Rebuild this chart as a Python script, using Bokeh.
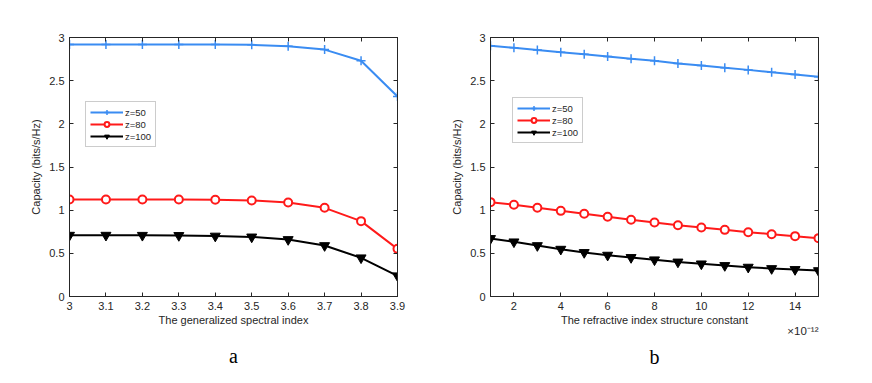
from bokeh.plotting import figure
from bokeh.layouts import row
from bokeh.models import Range1d, FixedTicker, LinearAxis, Legend, LegendItem, Title
from bokeh.embed import file_html
from bokeh.resources import INLINE

# ---- data ----
x_a = [3.0, 3.1, 3.2, 3.3, 3.4, 3.5, 3.6, 3.7, 3.8, 3.9]
a_z50 = [2.92, 2.92, 2.92, 2.92, 2.92, 2.915, 2.90, 2.86, 2.73, 2.317]
a_z80 = [1.124, 1.124, 1.124, 1.123, 1.12, 1.112, 1.089, 1.027, 0.873, 0.552]
a_z100 = [0.71, 0.71, 0.709, 0.707, 0.70, 0.69, 0.66, 0.59, 0.448, 0.24]

x_b = [1, 2, 3, 4, 5, 6, 7, 8, 9, 10, 11, 12, 13, 14, 15]
b_z50 = [2.905, 2.88, 2.855, 2.83, 2.805, 2.78, 2.755, 2.73, 2.70, 2.675, 2.65, 2.625, 2.597, 2.572, 2.545]
b_z80 = [1.093, 1.062, 1.027, 0.992, 0.958, 0.923, 0.888, 0.857, 0.826, 0.80, 0.772, 0.745, 0.722, 0.699, 0.676]
b_z100 = [0.672, 0.633, 0.59, 0.548, 0.51, 0.479, 0.452, 0.425, 0.40, 0.378, 0.359, 0.34, 0.324, 0.313, 0.30]

series_labels = ["z=50", "z=80", "z=100"]
y_ticks = [0, 0.5, 1, 1.5, 2, 2.5, 3]
a_ticks = [3.0, 3.1, 3.2, 3.3, 3.4, 3.5, 3.6, 3.7, 3.8, 3.9]
b_ticks = [2, 4, 6, 8, 10, 12, 14]

BLUE = "#3a8cf2"
RED = "#ff1a1a"
BLACK = "#000000"
AX = "#262626"
FONT = "Liberation Sans"


def style_axis(ax, ticks, show_labels=True):
    ax.ticker = FixedTicker(ticks=ticks)
    ax.major_label_overrides = {t: ("%g" % t) for t in ticks}
    ax.major_tick_in = 4
    ax.major_tick_out = 0
    ax.minor_tick_in = 0
    ax.minor_tick_out = 0
    ax.axis_line_color = AX
    ax.major_tick_line_color = AX
    ax.major_label_text_font = FONT
    ax.major_label_text_font_size = "11px"
    ax.major_label_text_color = AX
    ax.axis_label_text_font = FONT
    ax.axis_label_text_font_size = "11px"
    ax.axis_label_text_font_style = "normal"
    ax.axis_label_text_color = AX
    if not show_labels:
        ax.major_label_text_color = None
        ax.major_label_standoff = 0


def make(xs, ys_list, xr, xticks, xlabel, width, left, right, leg_loc):
    p = figure(width=width, height=383, output_backend="svg", toolbar_location=None,
               x_range=Range1d(*xr), y_range=Range1d(0, 3),
               min_border_left=left, min_border_right=right,
               min_border_top=37, min_border_bottom=87)
    p.xgrid.visible = False
    p.ygrid.visible = False
    p.outline_line_color = AX
    p.outline_line_width = 1
    p.background_fill_color = "white"
    p.border_fill_color = "white"

    style_axis(p.xaxis[0], xticks)
    style_axis(p.yaxis[0], y_ticks)
    p.xaxis[0].axis_label = xlabel
    p.xaxis[0].major_label_standoff = 5
    p.xaxis[0].axis_label_standoff = 1
    p.yaxis[0].axis_label = "Capacity (bits/s/Hz)"
    p.yaxis[0].major_label_standoff = 5
    p.yaxis[0].axis_label_standoff = 4

    top = LinearAxis()
    style_axis(top, xticks, show_labels=False)
    p.add_layout(top, "above")
    rgt = LinearAxis()
    style_axis(rgt, y_ticks, show_labels=False)
    p.add_layout(rgt, "right")

    colors = [BLUE, RED, BLACK]
    items = []
    for i, ys in enumerate(ys_list):
        c = colors[i]
        ln = p.line(xs, ys, line_color=c, line_width=2)
        if i == 0:
            mk = p.scatter(xs, ys, marker="cross", size=9, line_color=c, line_width=1.5)
        elif i == 1:
            mk = p.scatter(xs, ys, marker="circle", size=8, line_color=c, fill_color="white", line_width=2)
        else:
            mk = p.scatter(xs, ys, marker="inverted_triangle", size=10, line_color=c, fill_color=c)
        items.append(LegendItem(label=series_labels[i], renderers=[ln, mk]))

    leg = Legend(items=items, location=leg_loc)
    leg.label_text_font = FONT
    leg.label_text_font_size = "9.5px"
    leg.label_text_color = AX
    leg.glyph_width = 33
    leg.glyph_height = 12
    leg.label_height = 12
    leg.label_standoff = 2
    leg.spacing = 0
    leg.padding = 4
    leg.margin = 0
    leg.border_line_color = "#9a9a9a"
    leg.border_line_width = 1
    leg.background_fill_alpha = 1
    p.add_layout(leg, "center")
    return p


def letter_title(text, standoff):
    return Title(text=text, align="center", text_font="Liberation Serif",
                 text_font_size="20px", text_font_style="normal", text_color="black",
                 standoff=standoff)


p1 = make(x_a, [a_z50, a_z80, a_z100], (3.0, 3.9), a_ticks,
          "The generalized spectral index", 436, 69, 39, (16, 149))
p1.add_layout(letter_title("a", 28), "below")

p2 = make(x_b, [b_z50, b_z80, b_z100], (1, 15), b_ticks,
          "The refractive index structure constant", 428, 54, 46, (22, 153))
p2.add_layout(Title(text="\u00d710\u207b\u00b9\u00b2", align="right", text_font=FONT,
                    text_font_size="11.5px", text_font_style="normal", text_color=AX,
                    standoff=-12), "below")
p2.add_layout(letter_title("b", 27), "below")

layout = row(p1, p2, spacing=0)
open("out.html", "w").write(file_html(layout, INLINE))
